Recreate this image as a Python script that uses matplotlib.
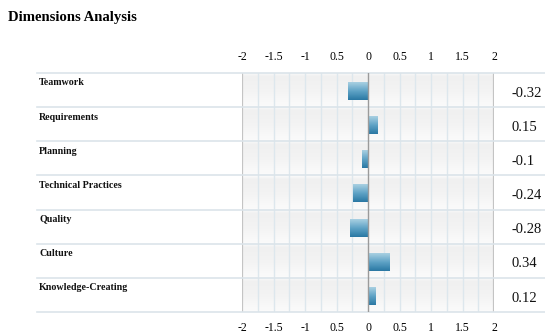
import numpy as np
import matplotlib.pyplot as plt
from matplotlib.colors import LinearSegmentedColormap
import matplotlib.transforms as mtransforms

categories = ['Teamwork', 'Requirements', 'Planning', 'Technical Practices',
              'Quality', 'Culture', 'Knowledge-Creating']
values = [-0.32, 0.15, -0.1, -0.24, -0.28, 0.34, 0.12]
tick_pos = [-2, -1.5, -1, -0.5, 0, 0.5, 1, 1.5, 2]
tick_labels = ['-2', '-1.5', '-1', '0.5', '0', '0.5', '1', '1.5', '2']

plt.rcParams['font.family'] = ['Liberation Serif', 'DejaVu Serif']

W, H = 545, 334
fig = plt.figure(figsize=(W / 100, H / 100), dpi=100)
x0, x1, y0, y1 = 242, 494, 73, 312
ax = fig.add_axes([x0 / W, 1 - y1 / H, (x1 - x0) / W, (y1 - y0) / H])
n = len(categories)

# row backgrounds (soft gray gradient)
row_cmap = LinearSegmentedColormap.from_list(
    'row', [(0, '#fcfcfc'), (0.12, '#f0f0f0'), (0.5, '#f3f3f3'), (1, '#fbfbfb')])
grad = np.linspace(0, 1, 64).reshape(-1, 1)
for i in range(n):
    ax.imshow(grad, cmap=row_cmap, aspect='auto', extent=[-2, 2, i + 1, i],
              zorder=0, interpolation='bilinear')

# vertical grid
for g in np.arange(-2, 2.01, 0.25):
    if abs(g) == 2:
        ax.axvline(g, color='#c4c4c4', lw=1.6, zorder=1)
    elif g == 0:
        ax.axvline(g, color='#9a9a9a', lw=1.0, zorder=3)
    else:
        ax.axvline(g, color='#dde7ed', lw=1.0, zorder=1)

# row separators running across the whole width
for i in range(n + 1):
    ax.axhline(i, xmin=(37 - x0) / (x1 - x0), xmax=(W - x0) / (x1 - x0),
               color='#dbe4ea', lw=1.2, clip_on=False, zorder=2)

# bars with a vertical blue gradient
bar_cmap = LinearSegmentedColormap.from_list('bar', ['#a9d0e2', '#5fa3c6', '#2a78a3'])
bars = ax.barh(np.arange(n) + 0.54, values, height=0.5, color='none', zorder=2)
for b in bars:
    bx, by, bw, bh = b.get_x(), b.get_y(), b.get_width(), b.get_height()
    ax.imshow(grad, cmap=bar_cmap, aspect='auto', zorder=2,
              extent=[min(bx, bx + bw), max(bx, bx + bw), by + bh, by],
              interpolation='bilinear')
ax.set_xlim(-2, 2)
ax.set_ylim(n, 0)

# category labels and value labels
lab_tr = mtransforms.blended_transform_factory(fig.transFigure, ax.transData)
for i, (c, v) in enumerate(zip(categories, values)):
    ax.text(39 / W, i + 0.29, c, transform=lab_tr, fontsize=7.2,
            fontweight='bold', va='center', ha='left', color='#111111')
    ax.text(511 / W, i + 0.59, f'{v:g}', transform=lab_tr, fontsize=10.5,
            va='center', ha='left', color='#111111')

ax.set_xticks(tick_pos)
ax.set_xticklabels(tick_labels)
ax.set_yticks([])
ax.tick_params(axis='x', length=0, labeltop=True, labelbottom=True,
               labelsize=8.5, pad=7)
for s in ax.spines.values():
    s.set_visible(False)

fig.text(8 / W, 1 - 18 / H, 'Dimensions Analysis', fontsize=10.6,
         fontweight='bold', va='center', ha='left')

fig.savefig('out.png', dpi=100)
